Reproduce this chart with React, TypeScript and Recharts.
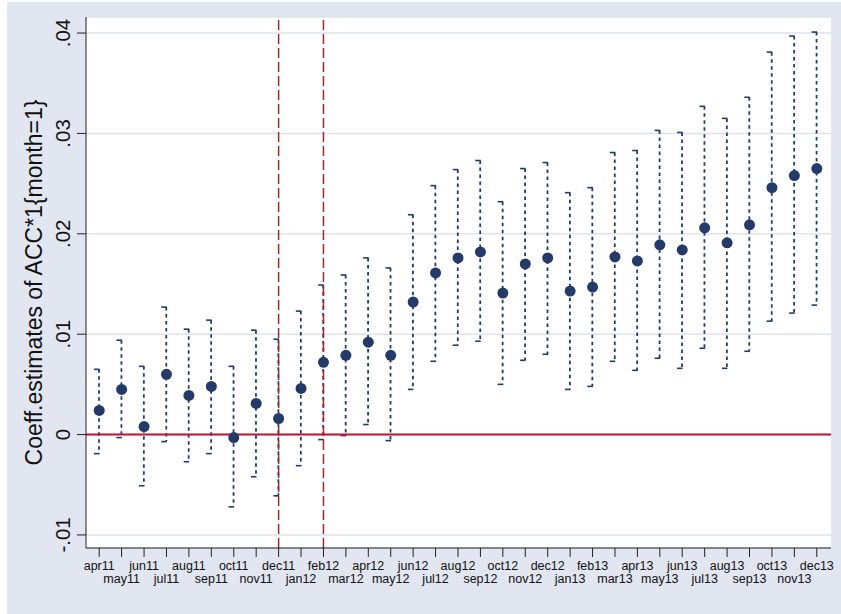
import { ComposedChart, Bar, Line, XAxis, YAxis, CartesianGrid, ReferenceLine } from 'recharts';

const months = [
  'apr11', 'may11', 'jun11', 'jul11', 'aug11', 'sep11', 'oct11', 'nov11', 'dec11', 'jan12', 'feb12',
  'mar12', 'apr12', 'may12', 'jun12', 'jul12', 'aug12', 'sep12', 'oct12', 'nov12', 'dec12', 'jan13',
  'feb13', 'mar13', 'apr13', 'may13', 'jun13', 'jul13', 'aug13', 'sep13', 'oct13', 'nov13', 'dec13',
];

const coef = [
  0.0024, 0.0045, 0.0008, 0.006, 0.0039, 0.0048, -0.0003, 0.0031, 0.0016, 0.0046, 0.0072,
  0.0079, 0.0092, 0.0079, 0.0132, 0.0161, 0.0176, 0.0182, 0.0141, 0.017, 0.0176, 0.0143,
  0.0147, 0.0177, 0.0173, 0.0189, 0.0184, 0.0206, 0.0191, 0.0209, 0.0246, 0.0258, 0.0265,
];

const lower = [
  -0.0019, -0.0003, -0.0051, -0.0007, -0.0027, -0.0019, -0.0072, -0.0042, -0.0061, -0.0031, -0.0005,
  -0.0001, 0.001, -0.0006, 0.0045, 0.0073, 0.0089, 0.0093, 0.005, 0.0074, 0.008, 0.0045,
  0.0048, 0.0073, 0.0064, 0.0076, 0.0066, 0.0086, 0.0066, 0.0083, 0.0113, 0.0121, 0.0129,
];

const upper = [
  0.0065, 0.0094, 0.0068, 0.0127, 0.0105, 0.0114, 0.0068, 0.0104, 0.0095, 0.0123, 0.0149,
  0.0159, 0.0176, 0.0166, 0.0219, 0.0248, 0.0264, 0.0273, 0.0232, 0.0265, 0.0271, 0.0241,
  0.0246, 0.0281, 0.0283, 0.0303, 0.0301, 0.0327, 0.0315, 0.0336, 0.0381, 0.0397, 0.0401,
];

const yTicks = [-0.01, 0, 0.01, 0.02, 0.03, 0.04];

const data = months.map((m, i) => ({ month: m, coef: coef[i], ci: [lower[i], upper[i]] }));

const navy = '#243b6a';

const fmt = (v: number) => (v === 0 ? '0' : v.toFixed(2).replace('0.', '.'));

// dashed CI line with small caps, drawn from the range bar's box
const CiShape = (props: any) => {
  const { x, y, width, height } = props;
  const cx = x + width / 2;
  const top = Math.min(y, y + height);
  const bot = Math.max(y, y + height);
  return (
    <g stroke={navy} fill="none">
      <line x1={cx} x2={cx} y1={top} y2={bot} strokeWidth={1.8} strokeDasharray="3.5 3.5" />
      <line x1={cx - 5} x2={cx + 4} y1={top} y2={top} strokeWidth={1.6} strokeDasharray="5.5 3.5" />
      <line x1={cx - 5} x2={cx + 4} y1={bot} y2={bot} strokeWidth={1.6} strokeDasharray="5.5 3.5" />
    </g>
  );
};

const XTick = (props: any) => {
  const { x, y, payload, index } = props;
  const row = index % 2 === 0 ? 0 : 1;
  return (
    <text x={x} y={y + 11 + row * 12.5} textAnchor="middle" fontSize={12.5} fill="#111">
      {payload.value}
    </text>
  );
};

const YTick = (props: any) => {
  const { y, payload } = props;
  return (
    <text x={70} y={y} transform={`rotate(-90, 70, ${y})`} textAnchor="middle" fontSize={20.5} fill="#111">
      {fmt(payload.value)}
    </text>
  );
};

const YLabel = (props: any) => {
  const { viewBox } = props;
  const cy = viewBox.y + viewBox.height / 2;
  return (
    <text x={42} y={cy} transform={`rotate(-90, 42, ${cy})`} textAnchor="middle" fontSize={23} fill="#111">
      Coeff.estimates of ACC*1{'{'}month=1{'}'}
    </text>
  );
};

export default function App() {
  return (
    <div style={{ position: 'absolute', left: 0, top: 0, width: 841, height: 614, background: '#ffffff', fontFamily: '"Liberation Sans", Arial, sans-serif' }}>
      <div style={{ position: 'absolute', left: 7, top: 2, width: 834, height: 612, background: '#e1e6f0' }} />
      <div style={{ position: 'absolute', left: 0, top: 0 }}>
        <ComposedChart width={841} height={614} data={data} margin={{ top: 17, right: 10, bottom: 0, left: 0 }}>
          <CartesianGrid vertical={false} fill="#ffffff" stroke="#dde2ee" strokeWidth={1.5} />
          <XAxis
            dataKey="month"
            height={66}
            interval={0}
            padding={{ left: 2, right: 3 }}
            tickSize={9}
            tickMargin={2}
            stroke="#222"
            tick={<XTick />}
          />
          <YAxis
            type="number"
            domain={[-0.0113, 0.0416]}
            ticks={yTicks}
            width={86}
            tickSize={9}
            stroke="#222"
            tick={<YTick />}
            label={<YLabel />}
          />
          <Bar dataKey="ci" barSize={8} shape={<CiShape />} isAnimationActive={false} />
          <ReferenceLine x="dec11" stroke="#9e2a2b" strokeWidth={1.5} strokeDasharray="10 4" />
          <ReferenceLine x="feb12" stroke="#9e2a2b" strokeWidth={1.5} strokeDasharray="10 4" />
          <ReferenceLine y={0} stroke="#c8102e" strokeWidth={2} />
          <Line dataKey="coef" stroke="none" dot={{ r: 5.5, fill: navy, stroke: 'none' }} activeDot={false} isAnimationActive={false} />
        </ComposedChart>
      </div>
    </div>
  );
}
